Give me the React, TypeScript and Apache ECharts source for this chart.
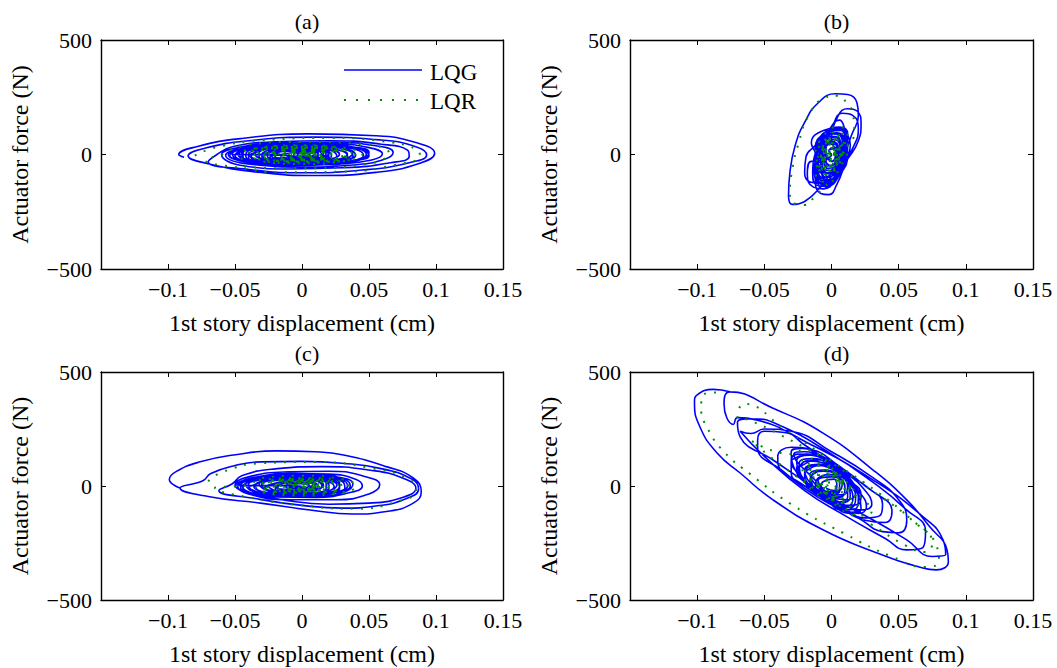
import React, { useEffect, useRef } from 'react';
import * as echarts from 'echarts';

const panelTitles = ['(a)', '(b)', '(c)', '(d)'];
const xName = '1st story displacement (cm)';
const yName = 'Actuator force (N)';
const seriesNames = ['LQG', 'LQR'];
const xMin = -0.15;
const xMax = 0.15;
const xStep = 0.05;
const yMin = -500;
const yMax = 500;
const yStep = 500;

// (a) LQG trajectory (displacement cm, force N)
const lqgA = [
  [-0.088, -12], [-0.092, 0], [-0.078, 35], [-0.045, 70], [0.005, 90], [0.055, 82], [0.085, 52], [0.099, 5], [0.088, -38], [0.055, -78], [0.012, -92], [-0.035, -76], [-0.07, -40],
  [-0.085, -6], [-0.072, 28], [-0.04, 60], [0.01, 76], [0.058, 64], [0.086, 32], [0.093, -2], [0.08, -36], [0.045, -68], [0.0, -80], [-0.042, -64], [-0.07, -32],
  [-0.064, -2], [-0.052, 34], [-0.02, 55], [0.02, 60], [0.058, 46], [0.079, 18], [0.08, -8], [0.066, -36], [0.03, -58], [-0.01, -63], [-0.045, -48],
  [-0.06, 0], [-0.048, 30], [-0.015, 50], [0.025, 52], [0.055, 38], [0.068, 10], [0.062, -20], [0.04, -45], [0.0, -55], [-0.035, -45],
  [-0.057, -3], [-0.045, 26], [-0.01, 46], [0.025, 45], [0.05, 30], [0.06, 3], [0.052, -24], [0.025, -42], [-0.01, -48], [-0.04, -35],
  [-0.055, 0], [-0.04, 28], [-0.005, 42], [0.025, 38], [0.045, 20], [0.05, -5], [0.038, -28], [0.01, -40], [-0.025, -40], [-0.048, -22],
  [-0.052, 2], [-0.035, 30], [0.0, 38], [0.025, 30], [0.038, 8], [0.033, -18], [0.012, -35], [-0.02, -38], [-0.042, -22],
  [-0.045, 5], [-0.03, 30], [-0.002, 36], [0.02, 25], [0.028, 3], [0.02, -22], [-0.005, -32], [-0.03, -25],
  [-0.04, 0], [-0.025, 25], [0.0, 30], [0.018, 18], [0.022, -5], [0.01, -25], [-0.015, -28], [-0.033, -12],
  [-0.035, 8], [-0.015, 28], [0.01, 22], [0.02, 0], [0.008, -22], [-0.015, -25], [-0.03, -8],
  [-0.028, 5], [-0.01, 20], [0.012, 15], [0.015, -5], [0.0, -18], [-0.02, -15],
  [-0.02, 0], [-0.005, 15], [0.01, 10], [0.008, -8], [-0.008, -12], [-0.015, 0],
  [-0.05, 0], [-0.04, 35], [-0.01, 48], [0.02, 44], [0.042, 25], [0.048, 0], [0.04, -28], [0.015, -45], [-0.015, -46], [-0.04, -30],
  [-0.054, -5], [-0.045, 25], [-0.02, 42], [0.01, 45], [0.035, 35], [0.05, 10], [0.046, -18], [0.025, -40], [-0.005, -47], [-0.035, -38],
  [-0.048, 5], [-0.035, 32], [-0.008, 40], [0.018, 38], [0.035, 22], [0.04, -3], [0.03, -25], [0.008, -38], [-0.02, -38], [-0.04, -22],
  [-0.042, 0], [-0.03, 28], [-0.005, 34], [0.015, 30], [0.03, 15], [0.034, -8], [0.022, -28], [0.0, -34], [-0.025, -30], [-0.038, -12],
  [-0.036, 5], [-0.02, 28], [0.005, 30], [0.022, 20], [0.028, 0], [0.02, -20], [0.0, -28], [-0.022, -24],
  [-0.03, 0], [-0.015, 22], [0.008, 24], [0.02, 10], [0.02, -10], [0.005, -22], [-0.018, -20],
  [-0.025, 10], [-0.005, 25], [0.015, 14], [0.016, -8], [0.0, -16], [-0.02, -10],
  [-0.015, 15], [0.006, 18], [0.012, 0], [0.0, -12], [-0.012, -4],
];
const coreA = [
  [-0.053, 3], [-0.042, 30], [-0.015, 44], [0.015, 42], [0.04, 28], [0.05, 4], [0.043, -22], [0.02, -40], [-0.01, -44], [-0.038, -32],
  [-0.05, -4], [-0.038, 22], [-0.012, 38], [0.018, 40], [0.04, 22], [0.046, -4], [0.036, -28], [0.01, -42], [-0.02, -40], [-0.042, -20],
  [-0.047, 2], [-0.034, 26], [-0.006, 36], [0.02, 32], [0.036, 14], [0.038, -10], [0.024, -30], [-0.002, -38], [-0.028, -30], [-0.044, -12],
  [-0.044, 6], [-0.03, 30], [0.0, 34], [0.024, 24], [0.034, 2], [0.026, -22], [0.004, -34], [-0.024, -32], [-0.04, -14],
  [-0.038, 2], [-0.022, 24], [0.004, 28], [0.022, 16], [0.026, -6], [0.014, -26], [-0.01, -30], [-0.032, -18],
  [-0.032, 6], [-0.016, 26], [0.008, 24], [0.02, 8], [0.016, -14], [0.0, -26], [-0.022, -22],
  [-0.026, -4], [-0.012, 18], [0.008, 20], [0.018, 2], [0.01, -16], [-0.008, -22], [-0.024, -12],
  [-0.02, 6], [-0.004, 18], [0.012, 10], [0.012, -8], [-0.002, -16], [-0.016, -8],
  [-0.012, 4], [0.002, 12], [0.01, 4], [0.006, -8], [-0.006, -8],
  [-0.006, 2], [0.004, 6], [0.006, -2], [0.0, -5], [-0.004, 0],
];

// (a) LQR trajectory
const lqrA = [
  [-0.08, -5], [-0.065, 30], [-0.03, 62], [0.02, 72], [0.06, 58], [0.085, 25], [0.088, -5], [0.07, -45], [0.03, -75], [-0.015, -78], [-0.05, -55], [-0.072, -25],
  [-0.06, 0], [-0.045, 40], [0.0, 55], [0.045, 45], [0.065, 5], [0.05, -40], [0.0, -60], [-0.045, -45],
  [-0.045, 0], [-0.03, 30], [0.0, 40], [0.03, 30], [0.045, 0], [0.03, -30], [0.0, -42], [-0.03, -30],
  [-0.038, 5], [-0.02, 32], [0.01, 35], [0.035, 15], [0.038, -10], [0.02, -32], [-0.01, -35], [-0.032, -18],
  [-0.03, 0], [-0.015, 25], [0.01, 28], [0.028, 10], [0.03, -12], [0.012, -28], [-0.012, -28], [-0.028, -10],
  [-0.022, 8], [-0.005, 22], [0.015, 18], [0.022, 0], [0.015, -18], [-0.005, -22], [-0.02, -8],
  [-0.015, 5], [0.0, 15], [0.012, 10], [0.015, -5], [0.005, -15], [-0.01, -12],
  [-0.008, 3], [0.002, 10], [0.01, 4], [0.008, -6], [-0.002, -8], [-0.006, 0],
  [-0.04, 10], [-0.025, 35], [0.005, 38], [0.03, 22], [0.04, -5], [0.025, -30], [-0.005, -38], [-0.03, -25],
  [-0.035, -5], [-0.02, 28], [0.008, 32], [0.028, 12], [0.032, -15], [0.015, -32], [-0.012, -30], [-0.03, -12],
  [-0.025, 5], [-0.01, 25], [0.012, 22], [0.025, 2], [0.02, -18], [0.0, -25], [-0.02, -15],
  [-0.018, 10], [0.0, 20], [0.016, 10], [0.018, -8], [0.004, -18], [-0.014, -10],
  [-0.012, 4], [0.004, 14], [0.014, 5], [0.012, -8], [0.0, -12], [-0.008, -4],
  [-0.004, 6], [0.008, 8], [0.012, 0], [0.006, -6], [-0.002, -4], [0.004, 2],
  [0.0, 8], [0.01, 6], [0.014, -2], [0.006, -8], [-0.004, -2], [0.004, 6], [0.012, 0], [0.006, -5], [0.0, 0],
];
const coreLqrA = [
  [-0.036, 0], [-0.024, 26], [0.002, 32], [0.026, 20], [0.034, -4], [0.022, -26], [-0.004, -32], [-0.026, -20],
  [-0.032, 8], [-0.016, 28], [0.01, 28], [0.028, 6], [0.026, -16], [0.008, -30], [-0.016, -28], [-0.03, -8],
  [-0.026, -2], [-0.012, 20], [0.01, 22], [0.022, 6], [0.02, -14], [0.002, -24], [-0.018, -18],
  [-0.02, 4], [-0.006, 18], [0.012, 14], [0.018, -2], [0.01, -16], [-0.008, -18], [-0.018, -6],
  [-0.014, 2], [0.0, 14], [0.012, 8], [0.014, -6], [0.004, -14], [-0.01, -10],
  [-0.01, 6], [0.004, 12], [0.014, 2], [0.01, -10], [-0.004, -10],
  [-0.006, 0], [0.004, 8], [0.01, 2], [0.006, -6], [-0.002, -6],
  [-0.002, 4], [0.006, 6], [0.008, -2], [0.002, -4], [0.0, 2],
  [0.002, 4], [0.008, 2], [0.006, -4], [0.0, -2],
];

// (b) LQG trajectory
const lqgB = [
  [0.002, -60], [-0.008, -140], [-0.02, -205], [-0.029, -218], [-0.032, -180], [-0.031, -80], [-0.027, 40], [-0.02, 140], [-0.01, 225], [0.003, 265], [0.012, 262], [0.019, 225], [0.02, 170], [0.016, 100], [0.008, 20],
  [0.0, 60], [0.005, 170], [0.012, 200], [0.019, 190], [0.022, 130], [0.02, 60], [0.012, -20], [0.004, -80], [-0.004, -100], [-0.008, -60], [-0.006, 20], [0.0, 110],
  [0.008, 180], [0.016, 170], [0.02, 110], [0.016, 30], [0.008, -50], [0.0, -120], [-0.006, -150], [-0.01, -120], [-0.01, -40], [-0.006, 50], [0.002, 140],
  [0.006, 150], [0.01, 110], [0.014, 40], [0.01, -40], [0.004, -130], [-0.002, -175], [-0.008, -170], [-0.012, -120], [-0.008, -40],
  [-0.015, -30], [-0.018, -90], [-0.014, -140], [-0.006, -150], [0.004, -100], [0.01, -20], [0.012, 60], [0.006, 110], [-0.004, 100], [-0.012, 40],
  [-0.019, -10], [-0.02, -80], [-0.016, -120], [-0.008, -125], [0.002, -80], [0.008, 0], [0.01, 70], [0.004, 115], [-0.006, 105], [-0.015, 50],
  [-0.012, 0], [-0.013, -60], [-0.006, -100], [0.002, -70], [0.007, 0], [0.008, 60], [0.002, 90], [-0.006, 70],
  [-0.014, -80], [-0.012, -130], [-0.004, -140], [0.006, -90], [0.012, 0], [0.012, 90], [0.006, 120], [-0.004, 100], [-0.012, 30],
  [-0.012, -60], [-0.009, -120], [-0.001, -125], [0.007, -60], [0.011, 20], [0.01, 100], [0.003, 115], [-0.006, 80], [-0.012, 10],
  [-0.011, -90], [-0.005, -135], [0.003, -110], [0.009, -30], [0.012, 50], [0.008, 110], [0.0, 110], [-0.008, 60], [-0.012, -20],
  [-0.008, -100], [-0.002, -110], [0.006, -50], [0.009, 30], [0.006, 90], [-0.002, 90], [-0.008, 30], [-0.01, -40],
  [-0.01, -20], [-0.008, -80], [0.0, -80], [0.005, -20], [0.006, 50], [0.0, 80], [-0.007, 50],
  [-0.006, -80], [0.0, -85], [0.005, -30], [0.007, 40], [0.003, 75], [-0.004, 60], [-0.008, 0],
  [-0.006, 0], [-0.005, -50], [0.001, -45], [0.004, 10], [0.002, 55], [-0.004, 40],
  [-0.004, -60], [0.002, -55], [0.005, 0], [0.004, 50], [-0.002, 50], [-0.005, 0],
  [-0.003, -10], [0.0, -30], [0.003, 0], [0.001, 30], [-0.002, 15], [0.0, 0],
];
const coreB = [
  [-0.013, -50], [-0.012, -110], [-0.005, -130], [0.004, -90], [0.011, 0], [0.012, 80], [0.006, 115], [-0.003, 100], [-0.011, 30],
  [-0.012, -30], [-0.01, -100], [-0.003, -120], [0.005, -70], [0.01, 10], [0.01, 90], [0.004, 110], [-0.005, 80], [-0.011, 10],
  [-0.01, -70], [-0.006, -115], [0.002, -100], [0.008, -30], [0.011, 50], [0.007, 105], [-0.001, 100], [-0.008, 40], [-0.011, -20],
  [-0.009, -50], [-0.004, -100], [0.003, -80], [0.008, 0], [0.009, 70], [0.004, 95], [-0.004, 70], [-0.009, 0],
  [-0.008, -30], [-0.003, -80], [0.003, -60], [0.007, 10], [0.006, 70], [0.0, 80], [-0.006, 40],
  [-0.007, -50], [-0.001, -70], [0.004, -20], [0.006, 40], [0.002, 65], [-0.004, 45], [-0.007, -10],
  [-0.005, -30], [0.0, -50], [0.004, 0], [0.004, 40], [-0.001, 45], [-0.005, 10],
  [-0.003, -20], [0.001, -30], [0.003, 5], [0.002, 25], [-0.002, 20],
];

// (b) LQR trajectory
const lqrB = [
  [-0.003, -130], [-0.012, -180], [-0.02, -220], [-0.027, -215], [-0.031, -165], [-0.029, -60], [-0.025, 40], [-0.017, 170], [-0.005, 248], [0.004, 257], [0.011, 228], [0.016, 175], [0.017, 100], [0.01, 20], [0.002, -40],
  [-0.012, -60], [-0.01, -110], [-0.002, -120], [0.006, -60], [0.012, 30], [0.012, 100], [0.004, 120], [-0.006, 80], [-0.012, 0],
  [-0.01, -40], [-0.007, -90], [0.0, -80], [0.008, -10], [0.01, 60], [0.004, 100], [-0.004, 70], [-0.01, 10],
  [-0.009, -60], [-0.004, -85], [0.003, -60], [0.008, 0], [0.009, 60], [0.004, 85], [-0.003, 60], [-0.008, 0],
  [-0.008, -30], [-0.004, -70], [0.003, -50], [0.007, 10], [0.006, 60], [0.0, 70], [-0.006, 30],
  [-0.007, -40], [-0.002, -70], [0.004, -40], [0.006, 20], [0.004, 65], [-0.002, 55], [-0.007, 10],
  [-0.006, -20], [-0.002, -50], [0.004, -20], [0.005, 30], [0.0, 50], [-0.004, 20],
  [-0.005, -30], [0.0, -50], [0.004, -15], [0.004, 30], [0.0, 45], [-0.004, 15],
  [-0.004, -10], [0.0, -30], [0.003, 0], [0.002, 30], [-0.002, 20], [-0.003, -5],
  [-0.003, -15], [0.002, -25], [0.003, 5], [0.0, 25], [-0.003, 8],
  [0.0, -15], [0.002, 10], [0.0, 15], [-0.001, 0], [0.0, -5], [0.002, 8], [-0.001, 10], [-0.002, -3],
];
const coreLqrB = [
  [-0.008, -40], [-0.004, -75], [0.002, -60], [0.006, -10], [0.008, 50], [0.004, 80], [-0.002, 60], [-0.007, 10],
  [-0.007, -20], [-0.003, -60], [0.003, -40], [0.006, 10], [0.005, 55], [0.0, 65], [-0.005, 30],
  [-0.006, -40], [-0.001, -55], [0.004, -20], [0.005, 25], [0.002, 50], [-0.003, 35], [-0.006, 0],
  [-0.004, -25], [0.001, -40], [0.004, -5], [0.003, 30], [-0.001, 35], [-0.004, 10],
  [-0.003, -10], [0.001, -20], [0.003, 5], [0.001, 20], [-0.002, 12],
  [-0.001, -5], [0.002, -8], [0.002, 6], [0.0, 10], [-0.001, 2],
];

// (c) LQG trajectory
const lqgC = [
  [-0.091, -9], [-0.099, 29], [-0.094, 63], [-0.076, 106], [-0.051, 136], [-0.019, 154], [0.01, 150], [0.031, 136], [0.063, 85], [0.083, 35], [0.089, -25], [0.083, -75], [0.063, -112], [0.038, -123], [0.006, -105], [-0.031, -75], [-0.069, -47], [-0.091, -9],
  [-0.074, 23], [-0.068, 55], [-0.05, 90], [-0.031, 106], [0.0, 108], [0.03, 100], [0.06, 75], [0.082, 30], [0.087, -12], [0.078, -55], [0.055, -88], [0.031, -97], [0.0, -85], [-0.035, -55], [-0.062, -20],
  [-0.052, 10], [-0.045, 45], [-0.02, 75], [0.015, 85], [0.05, 70], [0.075, 35], [0.085, -10], [0.075, -50], [0.05, -75], [0.02, -80], [-0.015, -60], [-0.04, -30],
  [-0.05, 5], [-0.04, 40], [-0.01, 62], [0.02, 65], [0.045, 45], [0.058, 5], [0.05, -35], [0.025, -60], [-0.01, -60], [-0.04, -35],
  [-0.048, 0], [-0.035, 38], [-0.005, 55], [0.02, 52], [0.04, 30], [0.045, 0], [0.035, -30], [0.01, -50], [-0.02, -48], [-0.04, -25],
  [-0.045, 8], [-0.03, 40], [0.0, 50], [0.025, 40], [0.038, 10], [0.032, -25], [0.01, -45], [-0.02, -42], [-0.038, -15],
  [-0.04, 5], [-0.025, 35], [0.002, 42], [0.022, 28], [0.028, 0], [0.02, -28], [-0.005, -38], [-0.03, -25],
  [-0.035, 0], [-0.02, 30], [0.005, 35], [0.02, 15], [0.02, -12], [0.005, -30], [-0.02, -28],
  [-0.03, 8], [-0.012, 28], [0.008, 25], [0.015, 0], [0.005, -22], [-0.018, -22], [-0.028, 0],
  [-0.05, 5], [-0.038, 35], [-0.01, 50], [0.015, 48], [0.032, 28], [0.036, 0], [0.025, -30], [0.0, -48], [-0.028, -40], [-0.045, -15],
  [-0.046, 0], [-0.035, 30], [-0.008, 44], [0.016, 40], [0.03, 20], [0.032, -8], [0.018, -35], [-0.008, -45], [-0.032, -32],
  [-0.042, 8], [-0.028, 35], [-0.002, 40], [0.018, 28], [0.026, 5], [0.02, -22], [0.0, -38], [-0.025, -32], [-0.04, -10],
  [-0.038, 0], [-0.022, 28], [0.002, 32], [0.018, 18], [0.02, -8], [0.006, -30], [-0.02, -28],
  [-0.032, 10], [-0.015, 30], [0.008, 25], [0.016, 5], [0.01, -18], [-0.012, -25], [-0.028, -8],
  [-0.025, 0], [-0.01, 22], [0.008, 18], [0.012, -2], [0.0, -18], [-0.018, -12],
  [-0.02, 5], [-0.005, 20], [0.01, 12], [0.01, -10], [-0.005, -18], [-0.018, -5],
  [-0.018, 10], [0.0, 15], [0.01, 4], [0.004, -12], [-0.012, -6],
  [-0.01, 10], [0.005, 8], [0.004, -6], [-0.008, -8], [0.0, 0],
];
const coreC = [
  [-0.048, 4], [-0.036, 32], [-0.012, 46], [0.012, 44], [0.03, 26], [0.034, 0], [0.024, -28], [0.0, -44], [-0.026, -38], [-0.044, -14],
  [-0.044, -2], [-0.032, 26], [-0.006, 40], [0.016, 36], [0.028, 14], [0.028, -12], [0.012, -36], [-0.014, -42], [-0.036, -26],
  [-0.04, 6], [-0.024, 32], [0.0, 36], [0.018, 22], [0.024, -2], [0.014, -28], [-0.008, -36], [-0.03, -24],
  [-0.036, -2], [-0.02, 24], [0.004, 30], [0.018, 14], [0.018, -12], [0.002, -30], [-0.022, -26],
  [-0.03, 4], [-0.014, 26], [0.008, 24], [0.016, 4], [0.008, -20], [-0.014, -26], [-0.028, -10],
  [-0.024, 6], [-0.008, 22], [0.008, 16], [0.01, -6], [-0.004, -20], [-0.02, -14],
  [-0.018, 2], [-0.004, 16], [0.008, 8], [0.004, -10], [-0.01, -12],
  [-0.012, 4], [0.0, 10], [0.006, 0], [-0.002, -8], [-0.01, -4],
];

// (c) LQR trajectory
const lqrC = [
  [-0.07, 20], [-0.06, 60], [-0.03, 100], [0.01, 105], [0.05, 80], [0.08, 30], [0.085, -20], [0.07, -70], [0.04, -100], [0.0, -85], [-0.04, -50], [-0.065, -10],
  [-0.04, 5], [-0.03, 35], [0.0, 45], [0.03, 30], [0.04, 0], [0.03, -30], [0.0, -42], [-0.03, -28],
  [-0.035, 8], [-0.02, 32], [0.01, 35], [0.032, 15], [0.035, -10], [0.02, -32], [-0.01, -35], [-0.03, -15],
  [-0.03, 5], [-0.018, 28], [0.005, 32], [0.025, 18], [0.03, -5], [0.018, -25], [-0.005, -30], [-0.025, -18],
  [-0.028, 0], [-0.015, 25], [0.01, 28], [0.026, 8], [0.028, -12], [0.012, -28], [-0.012, -28], [-0.026, -8],
  [-0.022, 0], [-0.01, 20], [0.01, 22], [0.02, 5], [0.018, -12], [0.005, -22], [-0.015, -18],
  [-0.02, 8], [-0.005, 22], [0.015, 18], [0.02, 0], [0.014, -18], [-0.005, -22], [-0.018, -8],
  [-0.015, 8], [0.0, 18], [0.014, 8], [0.012, -8], [0.0, -14], [-0.012, -6],
  [-0.012, 5], [0.002, 15], [0.012, 8], [0.012, -6], [0.002, -15], [-0.01, -10],
  [-0.006, 5], [0.006, 12], [0.012, 3], [0.008, -6], [-0.002, -6],
  [-0.005, 3], [0.004, 10], [0.01, 2], [0.006, -6], [-0.002, -6], [0.002, 0],
  [0.0, 4], [0.008, 6], [0.01, -2], [0.004, -4],
];
const coreLqrC = [
  [-0.032, 0], [-0.02, 24], [0.004, 28], [0.022, 14], [0.026, -8], [0.012, -26], [-0.012, -26], [-0.028, -10],
  [-0.026, 6], [-0.012, 24], [0.008, 22], [0.02, 4], [0.016, -16], [-0.002, -24], [-0.02, -16],
  [-0.02, 0], [-0.006, 18], [0.01, 14], [0.016, -2], [0.008, -16], [-0.008, -18], [-0.018, -6],
  [-0.014, 4], [0.0, 14], [0.012, 6], [0.01, -8], [-0.002, -14], [-0.012, -6],
  [-0.008, 2], [0.004, 10], [0.01, 2], [0.006, -8], [-0.004, -6],
  [-0.002, 2], [0.006, 6], [0.008, -2], [0.002, -4],
];

// (d) LQG trajectory
const lqgD = [
  [-0.0756, 413], [-0.088, 424], [-0.1, 400], [-0.102, 369], [-0.098, 260], [-0.085, 144], [-0.068, 57], [-0.0435, -61], [-0.006, -193], [0.031, -287], [0.068, -360], [0.078, -368], [0.087, -331], [0.086, -280], [0.073, -178], [0.056, -61], [0.031, 70], [-0.006, 231], [-0.0435, 341], [-0.0756, 413],
  [-0.08, 360], [-0.073, 270], [-0.07, 300], [-0.056, 290], [-0.018, 190], [0.031, 26], [0.068, -134], [0.083, -236], [0.085, -302], [0.075, -309], [0.056, -236], [0.031, -149], [-0.006, -31], [-0.0435, 114], [-0.068, 216],
  [-0.07, 280], [-0.06, 295], [-0.04, 270], [0.0, 140], [0.03, 20], [0.055, -100], [0.07, -200], [0.068, -270], [0.056, -280], [0.04, -230], [0.01, -130], [-0.02, -20], [-0.05, 130], [-0.068, 240],
  [-0.06, 230], [-0.05, 250], [-0.03, 240], [0.0, 150], [0.03, 40], [0.05, -60], [0.056, -150], [0.05, -205], [0.038, -200], [0.02, -140], [-0.01, -50], [-0.035, 60], [-0.055, 170],
  [-0.055, 200], [-0.05, 240], [-0.035, 235], [-0.02, 180], [0.005, 80], [0.03, -20], [0.045, -110], [0.04, -160], [0.025, -150], [0.005, -90], [-0.02, 0], [-0.04, 110],
  [-0.04, 130], [-0.03, 170], [-0.015, 160], [0.005, 90], [0.025, 0], [0.038, -80], [0.036, -130], [0.025, -140], [0.01, -100], [-0.01, -30], [-0.03, 60],
  [-0.03, 110], [-0.025, 140], [-0.01, 130], [0.01, 60], [0.025, -20], [0.03, -80], [0.022, -105], [0.008, -80], [-0.01, -20], [-0.025, 50],
  [-0.03, 150], [-0.022, 165], [-0.01, 140], [0.008, 70], [0.02, -20], [0.026, -90], [0.02, -120], [0.008, -100], [-0.008, -40], [-0.022, 40], [-0.03, 110],
  [-0.028, 120], [-0.018, 140], [-0.004, 110], [0.01, 40], [0.02, -40], [0.022, -100], [0.014, -115], [0.0, -80], [-0.014, -10], [-0.026, 70],
  [-0.025, 80], [-0.018, 110], [-0.005, 100], [0.012, 30], [0.022, -40], [0.02, -80], [0.01, -85], [-0.005, -40], [-0.02, 20],
  [-0.024, 100], [-0.014, 120], [0.0, 85], [0.012, 20], [0.018, -50], [0.014, -95], [0.004, -90], [-0.008, -40], [-0.02, 30],
  [-0.02, 60], [-0.012, 90], [0.0, 75], [0.012, 20], [0.018, -30], [0.012, -60], [0.0, -50], [-0.012, -10],
  [-0.02, 70], [-0.01, 95], [0.002, 70], [0.012, 10], [0.014, -45], [0.006, -75], [-0.004, -55], [-0.014, 0],
  [-0.015, 40], [-0.006, 65], [0.004, 50], [0.012, 5], [0.01, -35], [0.0, -40], [-0.01, -5],
  [-0.016, 50], [-0.006, 70], [0.004, 45], [0.01, -5], [0.008, -45], [-0.002, -50], [-0.012, -10],
  [-0.01, 30], [-0.002, 50], [0.006, 25], [0.006, -20], [-0.002, -30], [-0.008, 0],
  [-0.01, 25], [0.0, 40], [0.008, 15], [0.006, -20], [-0.003, -25], [-0.008, 0],
];
const coreD = [
  [-0.028, 140], [-0.02, 150], [-0.006, 120], [0.01, 50], [0.02, -30], [0.022, -100], [0.014, -120], [0.002, -90], [-0.012, -20], [-0.024, 60],
  [-0.026, 110], [-0.016, 135], [-0.002, 100], [0.012, 30], [0.02, -50], [0.018, -100], [0.008, -105], [-0.004, -60], [-0.018, 10], [-0.026, 80],
  [-0.022, 90], [-0.012, 115], [0.002, 80], [0.012, 10], [0.016, -55], [0.01, -90], [0.0, -80], [-0.012, -20], [-0.02, 50],
  [-0.018, 70], [-0.008, 90], [0.004, 60], [0.012, 0], [0.012, -50], [0.004, -70], [-0.006, -40], [-0.016, 20],
  [-0.014, 50], [-0.004, 70], [0.006, 35], [0.01, -15], [0.006, -50], [-0.004, -45], [-0.012, 0],
  [-0.01, 35], [0.0, 50], [0.006, 15], [0.006, -25], [0.0, -35], [-0.008, -5],
  [-0.006, 20], [0.002, 30], [0.004, 0], [0.002, -20], [-0.004, -10],
];

// (d) LQR trajectory
const lqrD = [
  [-0.086, 410], [-0.094, 405], [-0.097, 340], [-0.092, 250], [-0.08, 150], [-0.06, 50], [-0.03, -80], [0.01, -210], [0.045, -310], [0.07, -355], [0.08, -330], [0.078, -260], [0.06, -150], [0.035, -30], [0.0, 110], [-0.035, 250], [-0.065, 360],
  [-0.07, 300], [-0.062, 290], [-0.04, 230], [0.0, 100], [0.035, -40], [0.06, -150], [0.075, -250], [0.07, -290], [0.055, -260], [0.03, -170], [0.0, -60], [-0.035, 80], [-0.06, 200],
  [-0.03, 140], [-0.02, 160], [0.0, 80], [0.02, -40], [0.03, -110], [0.02, -130], [0.0, -70], [-0.02, 30],
  [-0.022, 110], [-0.012, 120], [0.005, 50], [0.018, -40], [0.02, -90], [0.01, -90], [-0.005, -30], [-0.018, 50],
  [-0.02, 90], [-0.01, 100], [0.005, 40], [0.016, -30], [0.018, -70], [0.008, -75], [-0.006, -20], [-0.016, 40],
  [-0.015, 80], [-0.006, 90], [0.006, 30], [0.014, -30], [0.012, -70], [0.002, -55], [-0.01, 0],
  [-0.014, 60], [-0.005, 70], [0.006, 20], [0.012, -30], [0.008, -55], [-0.002, -40], [-0.01, 10],
  [-0.01, 50], [0.0, 55], [0.008, 10], [0.01, -35], [0.002, -45], [-0.006, -5],
  [-0.008, 40], [0.0, 45], [0.007, 5], [0.008, -25], [0.0, -30], [-0.006, 5],
  [-0.005, 25], [0.003, 25], [0.005, -10], [0.0, -25], [-0.004, 0],
  [-0.004, 20], [0.003, 22], [0.005, -5], [0.0, -15], [-0.003, 5],
  [0.0, 10], [0.003, 0], [0.0, -8],
];
const coreLqrD = [
  [-0.018, 80], [-0.008, 90], [0.006, 30], [0.014, -30], [0.014, -70], [0.004, -65], [-0.008, -10], [-0.016, 40],
  [-0.012, 60], [-0.004, 70], [0.006, 20], [0.01, -30], [0.006, -55], [-0.004, -35], [-0.01, 15],
  [-0.01, 45], [0.0, 50], [0.006, 5], [0.006, -30], [-0.002, -35], [-0.008, 5],
  [-0.006, 30], [0.002, 30], [0.005, -5], [0.002, -22], [-0.004, -10],
  [-0.003, 15], [0.002, 15], [0.003, -5], [-0.001, -10],
];

const lqgData = [lqgA.concat(coreA), lqgB.concat(coreB), lqgC.concat(coreC), lqgD.concat(coreD)];
const lqrData = [lqrA.concat(coreLqrA), lqrB.concat(coreLqrB), lqrC.concat(coreLqrC), lqrD.concat(coreLqrD)];

const FONT = 'Liberation Serif';
const BLUE = '#0000ff';
const GREEN = '#008f00';

const grids = [
  { left: 101, top: 40, width: 402, height: 229 },
  { left: 630, top: 40, width: 403, height: 229 },
  { left: 101, top: 372, width: 402, height: 228 },
  { left: 630, top: 372, width: 403, height: 228 },
];

function fmt(v: number) {
  if (Math.abs(v - xMin) < 1e-9) return '';
  const r = Math.round(v * 1000) / 1000;
  return String(r).replace('-', '\u2212');
}

export default function App() {
  const ref = useRef<HTMLDivElement>(null);
  useEffect(() => {
    document.body.style.margin = '0';
    if (!ref.current) return;
    const chart = echarts.init(ref.current, undefined, { renderer: 'svg' });
    const xAxis: any[] = [];
    const yAxis: any[] = [];
    const series: any[] = [];
    const title: any[] = [];
    const axisLine = { show: true, onZero: false, lineStyle: { color: '#000', width: 1.4 } };
    const axisTick = { show: true, inside: true, length: 5, lineStyle: { color: '#000', width: 1 } };
    grids.forEach((g, i) => {
      xAxis.push({
        type: 'value', gridIndex: i, position: 'bottom', min: xMin, max: xMax, interval: xStep,
        axisLine, axisTick, splitLine: { show: false },
        axisLabel: { color: '#000', fontFamily: FONT, fontSize: 22, margin: 9, formatter: fmt, showMinLabel: true, showMaxLabel: true },
        name: xName, nameLocation: 'middle', nameGap: 42,
        nameTextStyle: { color: '#000', fontFamily: FONT, fontSize: 24 },
      });
      xAxis.push({
        type: 'value', gridIndex: i, position: 'top', min: xMin, max: xMax, interval: xStep,
        axisLine, axisTick, splitLine: { show: false }, axisLabel: { show: false },
      });
      yAxis.push({
        type: 'value', gridIndex: i, position: 'left', min: yMin, max: yMax, interval: yStep,
        axisLine, axisTick, splitLine: { show: false },
        axisLabel: { color: '#000', fontFamily: FONT, fontSize: 22, margin: 9, formatter: (v: number) => String(v).replace('-', '\u2212') },
        name: yName, nameLocation: 'middle', nameGap: 69,
        nameTextStyle: { color: '#000', fontFamily: FONT, fontSize: 24 },
      });
      yAxis.push({
        type: 'value', gridIndex: i, position: 'right', min: yMin, max: yMax, interval: yStep,
        axisLine, axisTick, splitLine: { show: false }, axisLabel: { show: false },
      });
      title.push({
        text: panelTitles[i], left: g.left + g.width / 2, top: g.top - 35, textAlign: 'center',
        textStyle: { color: '#000', fontFamily: FONT, fontSize: 22, fontWeight: 'normal' },
      });
      series.push({
        name: seriesNames[0], type: 'line', xAxisIndex: i * 2, yAxisIndex: i * 2,
        data: lqgData[i], symbol: 'none', smooth: 0.5,
        lineStyle: { color: BLUE, width: 1.6 }, itemStyle: { color: BLUE },
      });
      series.push({
        name: seriesNames[1], type: 'line', xAxisIndex: i * 2, yAxisIndex: i * 2,
        data: lqrData[i], symbol: 'none', smooth: 0.5,
        lineStyle: { color: GREEN, width: 2, type: [2, 8] }, itemStyle: { color: GREEN },
      });
    });
    const legendText = { fill: '#000', fontFamily: FONT, fontSize: 23 };
    chart.setOption({
      animation: false,
      backgroundColor: '#fff',
      title,
      grid: grids,
      xAxis,
      yAxis,
      graphic: [
        { type: 'line', shape: { x1: 344, y1: 70, x2: 422, y2: 70 }, style: { stroke: BLUE, lineWidth: 1.4 } },
        { type: 'text', x: 430, y: 72, style: { ...legendText, text: seriesNames[0], verticalAlign: 'middle' } },
        { type: 'line', shape: { x1: 344, y1: 100, x2: 422, y2: 100 }, style: { stroke: GREEN, lineWidth: 2, lineDash: [2, 10] } },
        { type: 'text', x: 430, y: 101, style: { ...legendText, text: seriesNames[1], verticalAlign: 'middle' } },
      ],
      series,
    });
    return () => chart.dispose();
  }, []);
  return <div ref={ref} style={{ width: 1057, height: 668 }} />;
}
